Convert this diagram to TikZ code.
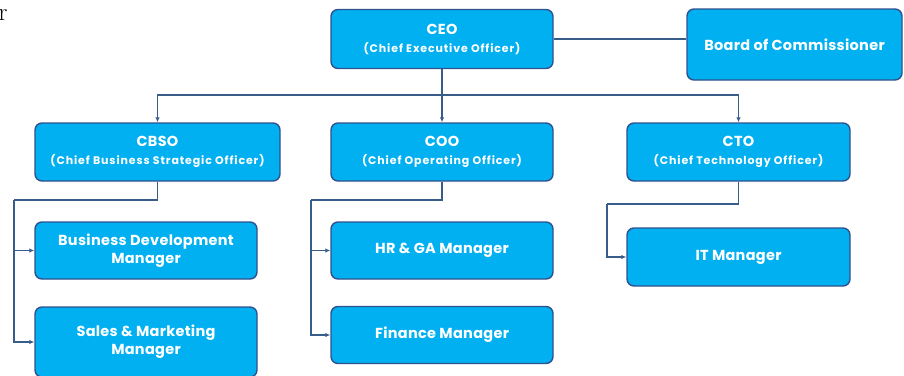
\documentclass[tikz,border=0pt]{standalone}
\usepackage{fontspec}
\usepackage{xcolor}
\usepackage{tikz}
\usetikzlibrary{arrows.meta}

\newfontfamily\orgfont[LetterSpace=2]{Poppins}

\definecolor{orgfill}{HTML}{00B0F0}
\definecolor{orgedge}{HTML}{2F528F}
\definecolor{orgline}{HTML}{385D8A}

\tikzset{
	orgbox/.style={rectangle, rounded corners=7pt, draw=orgedge, line width=1.4pt,
		fill=orgfill, text=white, align=center, inner sep=0pt,
		font=\orgfont\bfseries\fontsize{14.5}{18}\selectfont,
		minimum width=222pt, minimum height=57pt},
	orgline/.style={draw=orgline, line width=1.2pt},
	orgarrow/.style={orgline, -{Latex[length=5pt,width=4.5pt]}}
}
\newcommand{\subtitle}[1]{{\fontsize{11}{18}\selectfont\addfontfeatures{LetterSpace=8}#1}}

\begin{document}
\begin{tikzpicture}[x=1pt,y=1pt]
			\useasboundingbox (0,0) rectangle (904,-375);
			\clip (0,0) rectangle (904,-375);
			% stray letter at top left
			\node[anchor=base west, inner sep=0pt, font=\fontsize{25}{25}\selectfont] (stray) at (-1.5,-20) {r};
			% top level
			\node[orgbox, minimum height=59pt] (ceo) at (442,-39) {CEO\\ \subtitle{(Chief Executive Officer)}};
			\node[orgbox, minimum width=215pt, minimum height=71pt] (board) at (794.5,-44.5) {Board of Commissioner};
			% chiefs
			\node[orgbox, minimum width=245pt, minimum height=58pt] (cbso) at (157.5,-152) {CBSO\\ \subtitle{(Chief Business Strategic Officer)}};
			\node[orgbox, minimum height=58pt] (coo) at (442,-152) {COO\\ \subtitle{(Chief Operating Officer)}};
			\node[orgbox, minimum width=223pt, minimum height=58pt] (cto) at (738.5,-152) {CTO\\ \subtitle{(Chief Technology Officer)}};
			% managers
			\node[orgbox] (bd) at (146,-250.5) {Business Development\\Manager};
			\node[orgbox, minimum height=70pt] (sm) at (146,-342) {Sales \& Marketing\\Manager};
			\node[orgbox] (hr) at (442,-250.5) {HR \& GA Manager};
			\node[orgbox] (fin) at (442,-335) {Finance Manager};
			\node[orgbox, minimum width=223pt, minimum height=58pt] (it) at (738.5,-257) {IT Manager};
			% connectors
			\draw[orgline] (ceo.east) -- (ceo.east -| board.west);
			\coordinate (bus) at (442,-95);
			\draw[orgarrow] (ceo.south) -- (coo.north);
			\draw[orgarrow] (bus) -| (cbso.north);
			\draw[orgarrow] (bus) -| (cto.north);
			\coordinate (cbsoleg) at (14,-200);
			\draw[orgline] (cbso.south) |- (cbsoleg);
			\draw[orgarrow] (cbsoleg) |- (bd.west);
			\draw[orgarrow] (cbsoleg) |- (sm.west);
			\coordinate (cooleg) at (311,-200);
			\draw[orgline] (coo.south) |- (cooleg);
			\draw[orgarrow] (cooleg) |- (hr.west);
			\draw[orgarrow] (cooleg) |- (fin.west);
			\coordinate (ctoleg) at (607,-204);
			\draw[orgline] (cto.south) |- (ctoleg);
			\draw[orgarrow] (ctoleg) |- (it.west);
		\end{tikzpicture}
\end{document}
